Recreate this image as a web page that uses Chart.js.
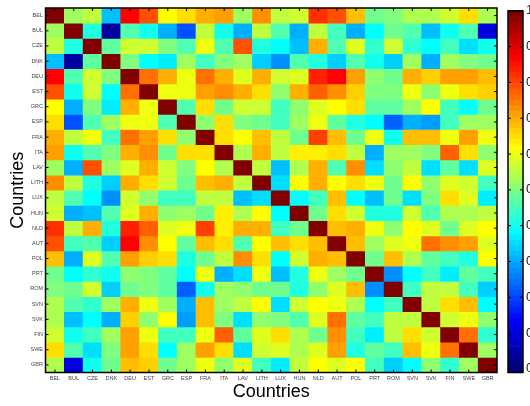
<!DOCTYPE html>
<html><head><meta charset="utf-8">
<script src="https://cdn.jsdelivr.net/npm/chart.js@4"></script>
<style>
html,body{margin:0;padding:0;background:#fff;overflow:hidden}
#wrap{position:relative;width:530px;height:406px}
canvas{position:absolute;left:0;top:0}
</style></head><body>
<div id="wrap"><canvas id="main" width="530" height="406"></canvas><canvas id="bar" width="530" height="406"></canvas></div>
<script>
const countries = ["BEL","BUL","CZE","DNK","DEU","EST","GRC","ESP","FRA","ITA","LAV","LITH","LUX","HUN","NLD","AUT","POL","PRT","ROM","SVN","SVK","FIN","SWE","GBR"];
const axisTitle = "Countries";
const colorTicks = [0,0.1,0.2,0.3,0.4,0.5,0.6,0.7,0.8,0.9,1];
const colorMin = -0.01, colorMax = 1, colorLevels = 64;
const values = [
[1,.525,.565,.31,.87,.80,.625,.66,.70,.72,.525,.74,.565,.585,.83,.80,.69,.48,.50,.54,.54,.585,.66,.54],
[.525,1,.41,.03,.46,.39,.30,.21,.555,.39,.30,.565,.45,.29,.565,.44,.30,.38,.49,.45,.32,.39,.45,.09],
[.565,.41,1,.47,.575,.575,.50,.46,.61,.46,.80,.41,.38,.31,.71,.45,.60,.42,.585,.42,.37,.44,.35,.39],
[.31,.03,.47,1,.50,.38,.36,.525,.43,.50,.525,.33,.27,.45,.41,.33,.45,.39,.33,.525,.30,.525,.50,.48],
[.87,.46,.575,.50,1,.77,.70,.61,.77,.70,.60,.70,.585,.60,.85,.87,.72,.51,.48,.71,.67,.72,.72,.68],
[.80,.39,.575,.38,.77,1,.615,.61,.72,.74,.70,.65,.51,.70,.78,.74,.67,.50,.50,.61,.51,.615,.66,.67],
[.625,.30,.50,.36,.70,.615,1,.46,.65,.48,.585,.585,.44,.51,.595,.62,.65,.47,.47,.525,.625,.43,.38,.48],
[.66,.21,.46,.525,.61,.61,.46,1,.51,.65,.50,.48,.43,.525,.61,.47,.41,.38,.22,.30,.28,.44,.525,.525],
[.70,.555,.61,.43,.77,.72,.65,.51,1,.65,.625,.68,.565,.48,.81,.69,.48,.615,.39,.68,.69,.615,.72,.61],
[.72,.39,.46,.50,.70,.74,.48,.65,.65,1,.54,.70,.565,.64,.64,.66,.565,.30,.525,.525,.50,.78,.66,.51],
[.525,.30,.80,.525,.60,.70,.585,.50,.625,.54,1,.565,.31,.54,.71,.46,.74,.35,.51,.565,.35,.47,.35,.60],
[.74,.565,.41,.33,.70,.65,.585,.48,.68,.70,.565,1,.34,.625,.70,.625,.65,.61,.48,.625,.51,.60,.585,.44],
[.565,.45,.38,.27,.585,.51,.44,.43,.565,.565,.31,.34,1,.38,.44,.69,.37,.31,.48,.35,.50,.66,.595,.36],
[.585,.29,.31,.45,.60,.70,.51,.525,.48,.64,.54,.625,.38,1,.48,.65,.585,.40,.40,.575,.46,.54,.54,.555],
[.83,.565,.71,.41,.85,.78,.595,.61,.81,.64,.71,.70,.44,.48,1,.68,.71,.61,.51,.625,.595,.48,.595,.625],
[.80,.44,.45,.33,.87,.74,.62,.47,.69,.66,.46,.625,.69,.65,.68,1,.68,.525,.595,.61,.76,.74,.72,.60],
[.69,.30,.60,.45,.72,.67,.65,.41,.48,.565,.74,.65,.37,.585,.71,.68,1,.48,.69,.54,.47,.44,.41,.625],
[.48,.38,.42,.39,.51,.50,.47,.38,.615,.30,.35,.61,.31,.40,.61,.525,.48,1,.27,.38,.44,.36,.47,.43],
[.50,.49,.585,.33,.48,.50,.47,.22,.39,.525,.51,.48,.48,.40,.51,.595,.69,.27,1,.43,.565,.555,.43,.33],
[.54,.45,.42,.525,.71,.61,.525,.30,.68,.525,.565,.625,.35,.575,.625,.61,.54,.38,.43,1,.565,.66,.68,.38],
[.54,.32,.37,.30,.67,.51,.625,.28,.69,.50,.35,.51,.50,.46,.595,.76,.47,.44,.565,.565,1,.575,.615,.51],
[.585,.39,.44,.525,.72,.615,.43,.44,.615,.78,.47,.60,.66,.54,.48,.74,.44,.36,.555,.66,.575,1,.77,.42],
[.66,.45,.35,.50,.72,.66,.38,.525,.72,.66,.35,.585,.595,.54,.595,.72,.41,.47,.43,.68,.615,.77,1,.525],
[.54,.09,.39,.48,.68,.67,.48,.525,.61,.51,.60,.44,.36,.555,.625,.60,.625,.43,.33,.38,.51,.42,.525,1]
];

function jet(v){
  const x = Math.min(1,Math.max(0,Math.round(v*colorLevels)/colorLevels));
  const c = t => Math.round(255*Math.max(0,Math.min(1,t)));
  return `rgb(${c(Math.min(4*x-1.5,-4*x+4.5))},${c(Math.min(4*x-0.5,-4*x+3.5))},${c(Math.min(4*x+0.5,-4*x+2.5))})`;
}
const FONT = "'Liberation Sans', Arial, sans-serif";

const frame = {
  id:'frame',
  afterDatasetsDraw(chart, args, opts){
    const {ctx, chartArea:a, scales} = chart;
    ctx.save();
    ctx.strokeStyle = '#000';
    ctx.lineWidth = 1;
    const L = opts.len;
    ctx.beginPath();
    if (scales.x && opts.xTicks) scales.x.ticks.forEach((t,i)=>{
      const p = scales.x.getPixelForTick(i);
      ctx.moveTo(p,a.top); ctx.lineTo(p,a.top+L);
      ctx.moveTo(p,a.bottom); ctx.lineTo(p,a.bottom-L);
    });
    scales.y.ticks.forEach((t,i)=>{
      const p = scales.y.getPixelForTick(i);
      ctx.moveTo(a.left,p); ctx.lineTo(a.left+L,p);
      ctx.moveTo(a.right,p); ctx.lineTo(a.right-L,p);
    });
    ctx.stroke();
    ctx.lineWidth = 1.5;
    ctx.strokeRect(a.left,a.top,a.right-a.left,a.bottom-a.top);
    ctx.restore();
  }
};

new Chart(document.getElementById('main'),{
  type:'bar',
  data:{
    labels:countries,
    datasets:countries.map((name,i)=>({
      label:name,
      data:countries.map(()=>[i-0.5,i+0.5]),
      backgroundColor:values[i].map(jet),
      borderWidth:0,
      grouped:false,
      categoryPercentage:1,
      barPercentage:1
    }))
  },
  plugins:[frame],
  options:{
    responsive:false,animation:false,devicePixelRatio:1,
    layout:{padding:{left:0,right:33,top:8,bottom:0}},
    plugins:{legend:{display:false},tooltip:{enabled:false},frame:{len:3,xTicks:true}},
    scales:{
      x:{
        type:'category',offset:true,
        grid:{display:false,drawTicks:false},border:{display:false},
        ticks:{autoSkip:false,maxRotation:0,minRotation:0,padding:3,color:'#444',font:{family:FONT,size:5.5}},
        title:{display:true,text:axisTitle,color:'#000',font:{family:FONT,size:18},padding:{top:2,bottom:3}},
        afterFit(s){s.height=33.5;}
      },
      y:{
        type:'linear',reverse:true,min:-0.5,max:23.5,
        grid:{display:false,drawTicks:false},border:{display:false},
        afterBuildTicks(s){s.ticks=countries.map((_,i)=>({value:i}));},
        ticks:{autoSkip:false,padding:2.5,color:'#444',font:{family:FONT,size:5.5},
          callback:v=>countries[v]},
        title:{display:true,text:axisTitle,color:'#000',font:{family:FONT,size:18},padding:{top:7,bottom:0}},
        afterFit(s){s.width=45.5;}
      }
    }
  }
});

const levelIdx = Array.from({length:colorLevels},(_,i)=>i);
new Chart(document.getElementById('bar'),{
  type:'bar',
  data:{
    labels:[''],
    datasets:levelIdx.map(i=>({
      data:[[i===0?colorMin:i/colorLevels,(i+1)/colorLevels]],
      backgroundColor:jet(i/(colorLevels-1)),
      borderWidth:0,grouped:false,categoryPercentage:1,barPercentage:1
    }))
  },
  plugins:[frame],
  options:{
    responsive:false,animation:false,devicePixelRatio:1,
    layout:{padding:{left:508,right:0,top:7.5,bottom:33.5}},
    plugins:{legend:{display:false},tooltip:{enabled:false},frame:{len:3,xTicks:false}},
    scales:{
      x:{type:'category',offset:true,display:false},
      y:{
        type:'linear',position:'right',min:colorMin,max:colorMax,
        grid:{display:false,drawTicks:false},border:{display:false},
        afterBuildTicks(s){s.ticks=colorTicks.map(v=>({value:v}));},
        ticks:{autoSkip:false,padding:3,color:'#222',font:{family:FONT,size:13},
          callback:v=>String(v)},
        afterFit(s){s.width=7;}
      }
    }
  }
});
</script>
</body></html>
